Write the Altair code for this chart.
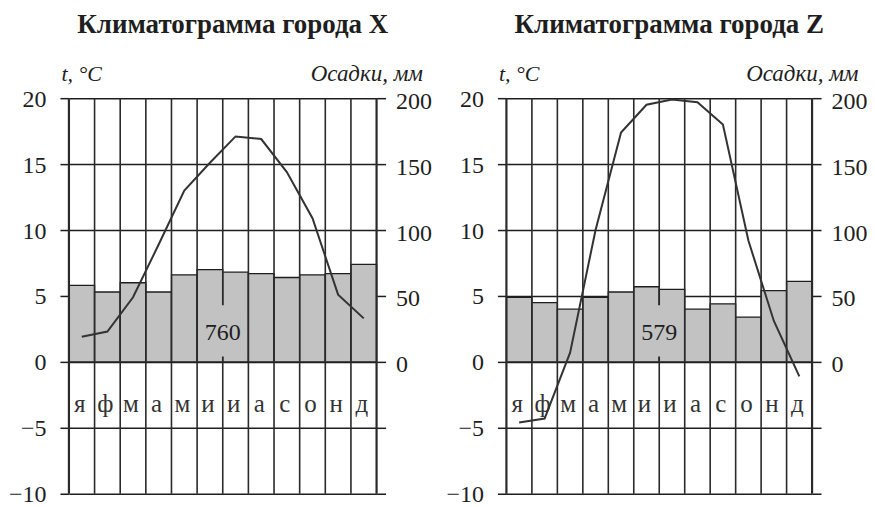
import altair as alt
import pandas as pd

# ---- data ----
months = ["я", "ф", "м", "а", "м", "и", "и", "а", "с", "о", "н", "д"]
temp_x = [1.9, 2.3, 4.9, 8.9, 13.0, 15.1, 17.1, 16.9, 14.4, 10.9, 5.1, 3.3]
precip_x = [58, 53, 60, 53, 66, 70, 68, 67, 64, 66, 67, 74]
temp_z = [-4.6, -4.3, 0.7, 10.0, 17.4, 19.5, 19.9, 19.7, 18.0, 9.2, 3.1, -1.1]
precip_z = [49, 45, 40, 49, 53, 57, 55, 40, 44, 34, 54, 61]
titles = ["Климатограмма города X", "Климатограмма города Z"]
annual_totals = ["760", "579"]
temp_ticks = [-10, -5, 0, 5, 10, 15, 20]
precip_ticks = [-100, -50, 0, 50, 100, 150, 200]

FONT = "Liberation Serif"
INK = "#1e1e1e"
GREY = "#c2c2c2"


def panel(title, temps, precs, total, width, height=396):
    n = len(months)
    df = pd.DataFrame({
        "x0": list(range(n)),
        "x1": [i + 1 for i in range(n)],
        "xc": [i + 0.5 for i in range(n)],
        "month": months,
        "temp": temps,
        "precip": precs,
    })
    bounds = pd.DataFrame({"b": list(range(n + 1))})
    bounds["w"] = [2.2 if b in (0, n) else 1.6 for b in bounds["b"]]
    single = pd.DataFrame({"label": [total]})

    xs = alt.Scale(domain=[0, n], nice=False, zero=False)
    ts = alt.Scale(domain=[-10, 20], nice=False, zero=False)
    ps = alt.Scale(domain=[-100, 200], nice=False, zero=False)

    bars = alt.Chart(df).mark_bar(fill=GREY, stroke=INK, strokeWidth=1.3).encode(
        x=alt.X("x0:Q", scale=xs, axis=None),
        x2="x1:Q",
        y=alt.Y("precip:Q", scale=ps, axis=alt.Axis(
            orient="right", values=precip_ticks,
            labelExpr="datum.value < 0 ? '' : datum.label",
            grid=False, domain=False, tickSize=9, tickWidth=1.5, tickColor=INK,
            labelPadding=10, labelFont=FONT, labelFontSize=24, labelColor=INK,
            labelOffset=3, labelBaseline="middle",
            title="Осадки, мм", titleAngle=0, titleX=46, titleY=-18,
            titleAlign="right", titleBaseline="alphabetic",
            titleFont=FONT, titleFontSize=23, titleFontStyle="italic",
            titleFontWeight="normal", titleColor=INK)),
        y2=alt.Y2Datum(0),
    )

    rules = alt.Chart(bounds).mark_rule(color="#2a2a2a").encode(
        x=alt.X("b:Q", scale=xs, axis=None),
        y=alt.YDatum(-10, scale=ts, axis=None),
        y2=alt.Y2Datum(20),
        strokeWidth=alt.StrokeWidth("w:Q", scale=None),
    )

    patch = alt.Chart(single).mark_rect(fill=GREY).encode(
        x=alt.XDatum(n / 2 - 0.7, scale=xs, axis=None),
        x2=alt.X2Datum(n / 2 + 0.7),
        y=alt.YDatum(0.4, scale=ts, axis=None),
        y2=alt.Y2Datum(4.3),
    )

    total_text = alt.Chart(single).mark_text(
        font=FONT, fontSize=24, baseline="alphabetic", align="center", color=INK
    ).encode(
        x=alt.XDatum(n / 2, scale=xs, axis=None),
        y=alt.YDatum(1.65, scale=ts, axis=None),
        text="label:N",
    )

    letters = alt.Chart(df).mark_text(
        font=FONT, fontSize=25, baseline="alphabetic", align="center", color="#333", dx=-2
    ).encode(
        x=alt.X("xc:Q", scale=xs, axis=None),
        y=alt.YDatum(-3.8, scale=ts, axis=None),
        text="month:N",
    )

    line = alt.Chart(df).mark_line(color="#333", strokeWidth=2).encode(
        x=alt.X("xc:Q", scale=xs, axis=None),
        y=alt.Y("temp:Q", scale=ts, axis=alt.Axis(
            orient="left", values=temp_ticks, grid=True, gridColor=INK,
            gridWidth=1.5, gridOpacity=1, domain=False, tickSize=9,
            tickWidth=1.5, tickColor=INK, labelPadding=14, labelFont=FONT,
            labelFontSize=24, labelColor=INK, labelOffset=1,
            labelBaseline="middle",
            title="t, °C", titleAngle=0, titleX=-8, titleY=-18,
            titleAlign="left", titleBaseline="alphabetic", titleFont=FONT,
            titleFontSize=22, titleFontStyle="italic", titleFontWeight="normal",
            titleColor=INK)),
    )

    return alt.layer(bars, rules, patch, total_text, letters, line).resolve_scale(
        y="independent"
    ).properties(
        width=width, height=height,
        title=alt.TitleParams(title, font=FONT, fontSize=27, fontWeight="bold",
                              anchor="middle", dx=10, offset=23, color=INK),
    )


left = panel(titles[0], temp_x, precip_x, annual_totals[0], 308)
right = panel(titles[1], temp_z, precip_z, annual_totals[1], 306)

chart = alt.hconcat(left, right, spacing=14).properties(
    padding={"left": 0, "top": 3, "right": 0, "bottom": 0}
).configure_view(stroke=None)

chart.save("out.html", embed_options={"renderer": "svg", "actions": False})
